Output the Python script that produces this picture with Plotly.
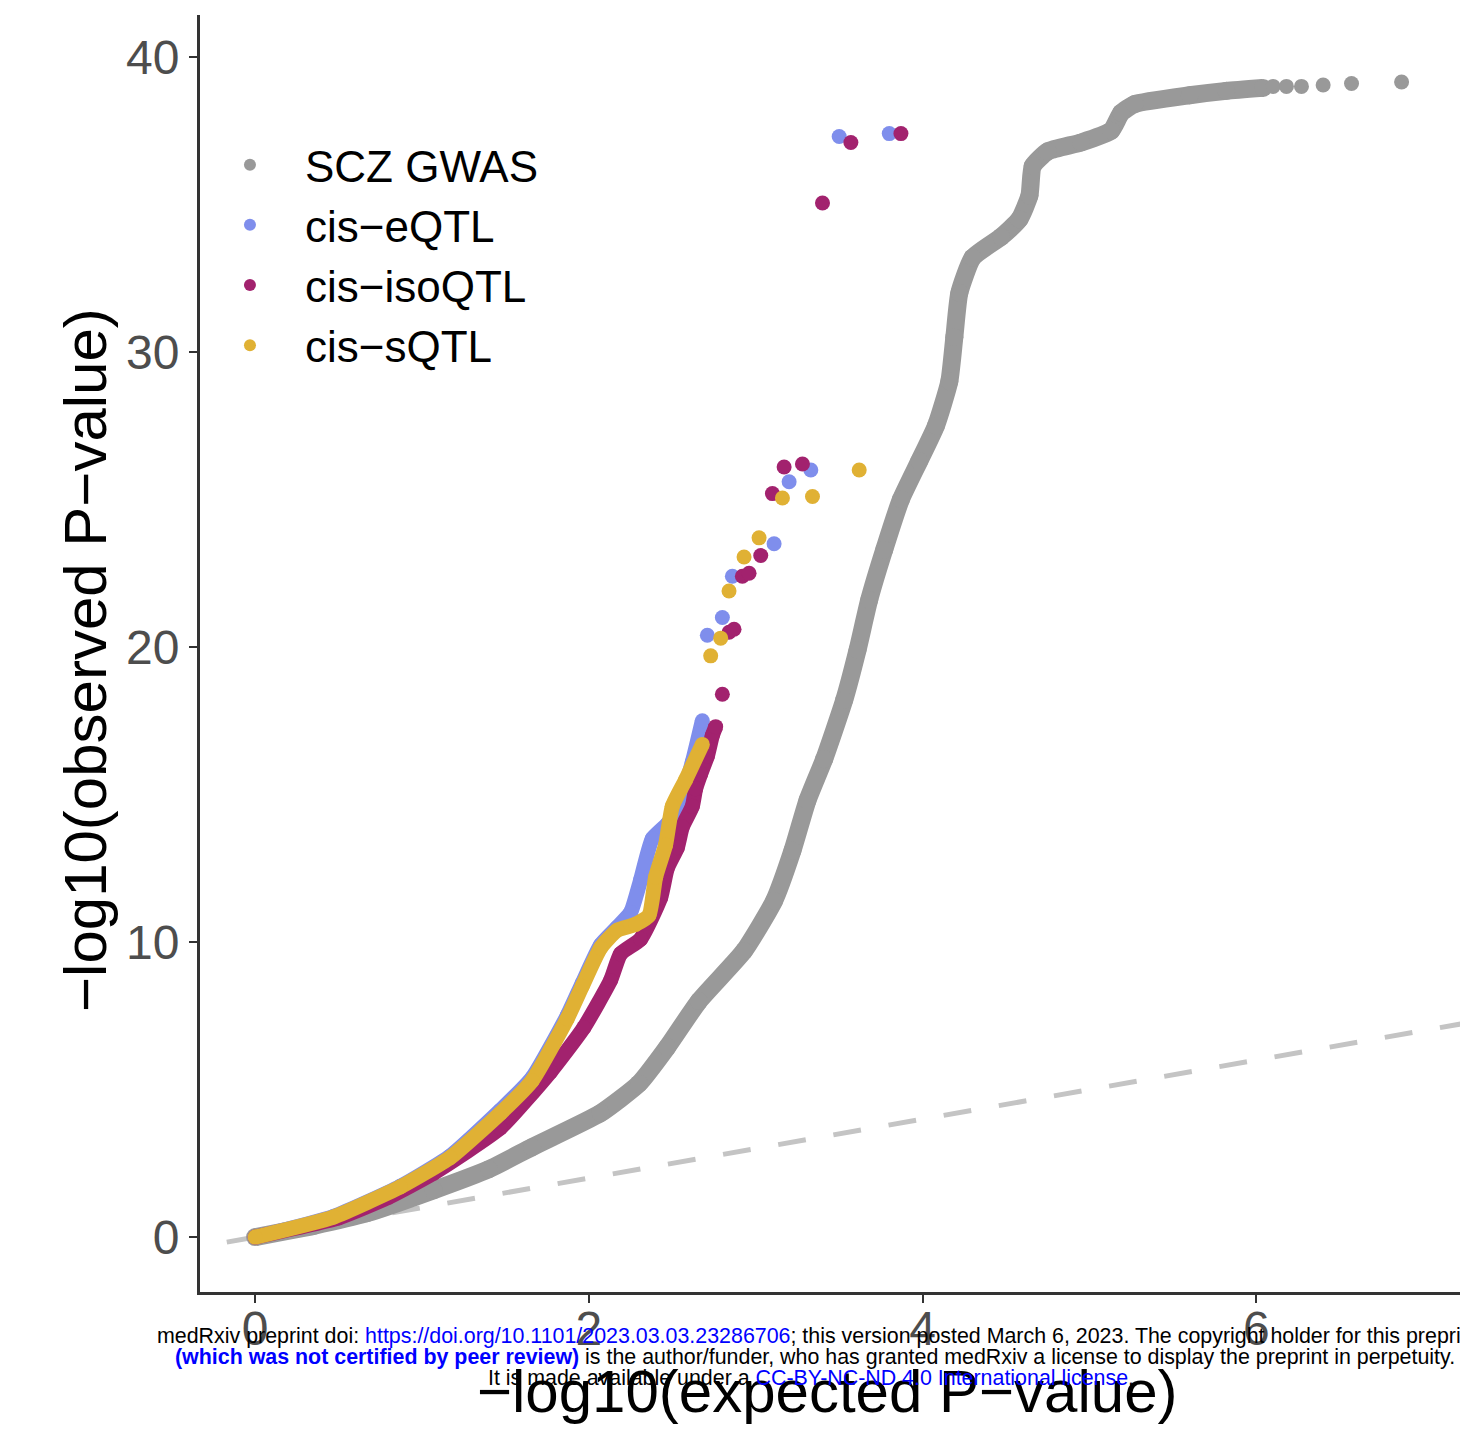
import plotly.graph_objects as go

# ---- data ----
# SCZ GWAS: dense part of the curve, then the separate top points
gwas_x = [0.0, 0.35, 0.67, 1.07, 1.4, 1.66, 2.07, 2.3, 2.47, 2.66, 2.93, 3.11, 3.22, 3.31, 3.41, 3.53,
          3.61, 3.68, 3.77, 3.87, 3.98, 4.08, 4.16, 4.19, 4.22, 4.30, 4.47, 4.58, 4.64, 4.66, 4.75,
          4.95, 5.13, 5.19, 5.27, 5.6, 5.82, 6.04]
gwas_y = [0.0, 0.38, 0.81, 1.59, 2.3, 3.05, 4.2, 5.2, 6.44, 8.0, 9.7, 11.4, 13.1, 14.8, 16.2, 18.2,
          19.9, 21.6, 23.3, 25.0, 26.3, 27.5, 29.0, 30.5, 32.0, 33.2, 33.9, 34.5, 35.3, 36.3, 36.8,
          37.1, 37.5, 38.1, 38.4, 38.7, 38.85, 38.95]
gwas_top_x = [6.10, 6.18, 6.27, 6.40, 6.57, 6.87]
gwas_top_y = [39.0, 39.0, 39.0, 39.05, 39.1, 39.15]

# cis-eQTL
eqtl_x = [0.0, 0.47, 0.87, 1.17, 1.47, 1.66, 1.87, 1.96, 2.07, 2.17, 2.25, 2.31, 2.38, 2.47, 2.54, 2.62, 2.68]
eqtl_y = [0.0, 0.7, 1.72, 2.75, 4.3, 5.4, 7.5, 8.6, 9.9, 10.5, 11.0, 12.1, 13.5, 14.0, 14.6, 16.1, 17.5]
eqtl_top_x = [2.71, 2.80, 2.86, 3.11, 3.20, 3.33, 3.50, 3.80]
eqtl_top_y = [20.4, 21.0, 22.4, 23.5, 25.6, 26.0, 37.3, 37.4]

# cis-isoQTL
iso_x = [0.0, 0.5, 0.8, 1.07, 1.47, 1.77, 1.97, 2.13, 2.19, 2.31, 2.43, 2.47, 2.53, 2.56, 2.62,
         2.64, 2.67, 2.71, 2.74, 2.76]
iso_y = [0.0, 0.65, 1.35, 2.17, 3.7, 5.6, 7.1, 8.7, 9.6, 10.1, 11.5, 12.5, 13.2, 13.9, 14.6,
         15.2, 15.7, 16.3, 17.0, 17.3]
iso_top_x = [2.80, 2.84, 2.87, 2.92, 2.96, 3.03, 3.10, 3.17, 3.28, 3.40, 3.57, 3.87]
iso_top_y = [18.4, 20.5, 20.6, 22.4, 22.5, 23.1, 25.2, 26.1, 26.2, 35.05, 37.1, 37.4]

# cis-sQTL
sqtl_x = [0.0, 0.47, 0.87, 1.17, 1.47, 1.66, 1.87, 1.96, 2.07, 2.17, 2.28, 2.36, 2.40, 2.46, 2.50, 2.58, 2.68]
sqtl_y = [0.0, 0.68, 1.7, 2.7, 4.2, 5.3, 7.4, 8.5, 9.8, 10.4, 10.6, 10.9, 12.2, 13.3, 14.6, 15.5, 16.7]
sqtl_top_x = [2.73, 2.79, 2.84, 2.93, 3.02, 3.16, 3.34, 3.62]
sqtl_top_y = [19.7, 20.3, 21.9, 23.05, 23.7, 25.05, 25.1, 26.0]

# identity line (expected == observed)
diag_x = [-0.5, 7.5]
diag_y = [-0.5, 7.5]

names = ["SCZ GWAS", "cis\u2212eQTL", "cis\u2212isoQTL", "cis\u2212sQTL"]
colors = ["#999999", "#7F8EEC", "#A2226E", "#E0B134"]
band_widths = [18, 15, 15, 15]

fig = go.Figure()

fig.add_trace(go.Scatter(x=diag_x, y=diag_y, mode="lines", showlegend=False, hoverinfo="skip",
                         line=dict(color="#C4C4C4", width=5, dash="28px,28px")))

series = [
    (gwas_x, gwas_y, gwas_top_x, gwas_top_y),
    (eqtl_x, eqtl_y, eqtl_top_x, eqtl_top_y),
    (iso_x, iso_y, iso_top_x, iso_top_y),
    (sqtl_x, sqtl_y, sqtl_top_x, sqtl_top_y),
]
for (bx, by, tx, ty), name, col, bw in zip(series, names, colors, band_widths):
    # dense part of the curve drawn as a thick band
    fig.add_trace(go.Scatter(x=bx, y=by, mode="lines+markers", name=name, legendgroup=name,
                             showlegend=False,
                             line=dict(color=col, width=bw, shape="spline", smoothing=0.5),
                             marker=dict(color=col, size=bw)))
    # separate points
    fig.add_trace(go.Scatter(x=tx, y=ty, mode="markers", name=name, legendgroup=name,
                             marker=dict(color=col, size=15)))

axis_common = dict(showgrid=False, zeroline=False, showline=True, linecolor="#333333", linewidth=3,
                   ticks="outside", ticklen=8, tickwidth=2, tickcolor="#333333",
                   tickfont=dict(size=48, color="#4D4D4D"))

fig.update_xaxes(range=[-0.33, 7.22], tickvals=[0, 2, 4, 6], ticklabelstandoff=-16, **axis_common)
fig.update_yaxes(range=[-1.86, 41.42], tickvals=[0, 10, 20, 30, 40], **axis_common)

# axis titles
fig.add_annotation(text="\u2212log10(expected P\u2212value)", x=0.4984, y=-0.0783, xref="paper", yref="paper",
                   xanchor="center", yanchor="middle", showarrow=False, font=dict(size=60, color="black"))
fig.add_annotation(text="\u2212log10(observed P\u2212value)", x=-0.0913, y=0.4949, xref="paper", yref="paper",
                   xanchor="center", yanchor="middle", textangle=-90, showarrow=False,
                   font=dict(size=60, color="black"))

# medRxiv banner printed over the bottom of the page
blue = "color:#0000FF"
banner = [
    ("medRxiv preprint doi: <span style='%s'>https://doi.org/10.1101/2023.03.03.23286706</span>; "
     "this version posted March 6, 2023. The copyright holder for this preprint" % blue, -0.0357, "left", -0.0345),
    ("<span style='%s'><b>(which was not certified by peer review)</b></span> is the author/funder, "
     "who has granted medRxiv a license to display the preprint in perpetuity." % blue, 0.4877, "center", -0.0509),
    ("It is made available under a <span style='%s'>CC-BY-NC-ND 4.0 International license</span>." % blue,
     0.4849, "center", -0.0673),
]
for txt, ax, anchor, ay in banner:
    fig.add_annotation(text=txt, x=ax, y=ay, xref="paper", yref="paper", xanchor=anchor, yanchor="middle",
                       showarrow=False, font=dict(size=21.4, color="black"))

fig.update_layout(
    width=1460, height=1430,
    margin=dict(l=192, r=8, t=7, b=146, autoexpand=False),
    font=dict(family="Liberation Sans, Arial, sans-serif", color="black"),
    plot_bgcolor="white", paper_bgcolor="white",
    legend=dict(x=-0.004, y=0.9103, xanchor="left", yanchor="top", font=dict(size=44, color="black"),
                itemsizing="constant", itemwidth=100, bgcolor="rgba(0,0,0,0)", traceorder="normal"),
    showlegend=True,
)

fig.write_html("out.html")
